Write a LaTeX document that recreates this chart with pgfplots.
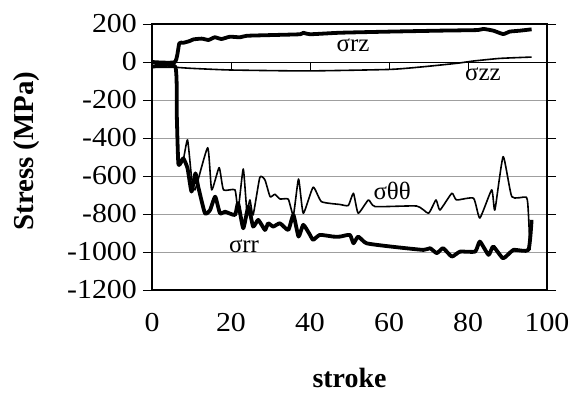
\documentclass[border=0pt]{standalone}
\usepackage{fontspec}
\setmainfont{Liberation Serif}
\newfontfamily\tickfont{Liberation Serif}[FakeStretch=1.09]
\usepackage{pgfplots}
\pgfplotsset{compat=1.18}
\pgfplotstableread{
x y
0 0
5.8 0
6.9 98
7.9 101
9.5 110
10.5 119
12.6 123
14.3 116
15.9 130
17.6 121
19.7 133
22.3 130
24 138
30.7 142
37.5 146
38.3 154
40 146
47.6 154
60.3 160
72.9 165
82.2 168
83.9 174
86.4 165
88.9 147
90.6 160
93.2 165
96.1 172
}\srz
\pgfplotstableread{
x y
0 -28
5.8 -28
9.6 -33
19.7 -42
39.2 -47
60.3 -39
68.7 -25
77.1 -7
81.3 5
88.1 19
96.1 26
}\szz
\pgfplotstableread{
x y
0 -25
5.9 -25
6.3 -300
6.7 -542
7.9 -516
9.0 -410
10.0 -603
10.9 -673
14.1 -451
15.1 -673
17.0 -556
18.1 -673
21.0 -673
21.8 -779
23.1 -563
24.0 -779
24.8 -726
25.6 -805
27.3 -607
28.6 -621
29.9 -709
31.1 -696
32.4 -721
34.5 -722
35.8 -805
37.1 -616
38.3 -796
40.8 -659
42.9 -735
47.6 -750
49.7 -755
51.0 -691
52.2 -796
54.8 -726
56.5 -761
67.0 -758
70.0 -796
71.9 -726
72.9 -779
75.9 -691
77.1 -726
81.4 -717
83.0 -821
86.0 -673
86.8 -779
88.9 -498
91.1 -709
94.8 -712
95.3 -800
95.7 -989
}\stt
\pgfplotstableread{
x y
0 -25
5.9 -25
6.3 -300
6.7 -540
7.9 -507
9.0 -560
10.0 -682
11.0 -586
11.7 -656
13.4 -796
14.7 -779
16.0 -709
17.2 -796
18.5 -788
21.0 -805
21.8 -743
23.1 -875
24.4 -761
25.6 -866
26.9 -831
28.6 -884
29.4 -849
30.7 -866
32.4 -849
34.5 -884
35.8 -805
37.1 -919
38.3 -857
40.0 -910
40.8 -936
42.5 -910
45.9 -919
47.6 -919
50.1 -910
51.0 -954
52.2 -919
54.3 -954
60.3 -971
68.7 -989
70.4 -980
72.1 -1006
73.7 -980
75.9 -1024
78.0 -998
81.8 -998
83.0 -945
85.2 -1015
86.4 -971
88.9 -1033
91.5 -989
95.3 -989
96.1 -831
}\srr
\begin{document}
\begin{tikzpicture}
\useasboundingbox (-152bp,-106bp) rectangle (418bp,290bp);
\begin{axis}[
  scale only axis, width=395bp, height=266bp,
  xmin=0, xmax=100, ymin=-1200, ymax=200,
  xtick={0,20,40,60,80,100}, xticklabels={0,20,40,60,80,100},
  ytick={-1200,-1000,-800,-600,-400,-200,0,200},
  yticklabels={-1200,-1000,-800,-600,-400,-200,0,200},
  ymajorgrids, grid style={gray!75, line width=0.8bp},
  axis line style={line width=1.3bp},
  tick style={black, line width=0.8bp},
  xtick style={draw=none},
  ytick align=outside, major tick length=9bp,
  ticklabel style={font=\tickfont\fontsize{27.5}{32}\selectfont, inner sep=0pt},
  yticklabel style={anchor=east, xshift=-6bp},
  xticklabel style={anchor=north, yshift=-23bp},
  xlabel={\textbf{stroke}}, ylabel={\textbf{Stress (MPa)}},
  xlabel style={font=\fontsize{28}{32}\selectfont, at={(axis description cs:0.5,-0.331)}, anchor=center},
  ylabel style={font=\fontsize{29}{33}\selectfont, at={(axis description cs:-0.318,0.5226)}, anchor=center, rotate=0},
  clip=false,
]
\draw[black, line width=0.9bp] (axis cs:0,0) -- (axis cs:100,0);
\draw[black, line width=0.8bp] (axis cs:20,0) -- ++(0pt,-8bp);
\draw[black, line width=0.8bp] (axis cs:40,0) -- ++(0pt,-8bp);
\draw[black, line width=0.8bp] (axis cs:60,0) -- ++(0pt,-8bp);
\draw[black, line width=0.8bp] (axis cs:80,0) -- ++(0pt,-8bp);
\addplot[black, line width=1.6bp, smooth, tension=0.3, line join=round] table {\szz};
\addplot[black, line width=1.6bp, smooth, tension=0.3, line join=round] table {\stt};
\addplot[black, line width=3.8bp, smooth, tension=0.3, line join=round] table {\srr};
\addplot[black, line width=3.8bp, smooth, tension=0.3, line join=round] table {\srz};
\node[font=\fontsize{25}{28}\selectfont] at (axis cs:50.9,89) {σrz};
\node[font=\fontsize{25}{28}\selectfont] at (axis cs:83.8,-63) {σzz};
\node[font=\fontsize{25}{28}\selectfont] at (axis cs:60.8,-680) {σθθ};
\node[font=\fontsize{25}{28}\selectfont] at (axis cs:23.3,-970) {σrr};
\end{axis}
\end{tikzpicture}
\end{document}
